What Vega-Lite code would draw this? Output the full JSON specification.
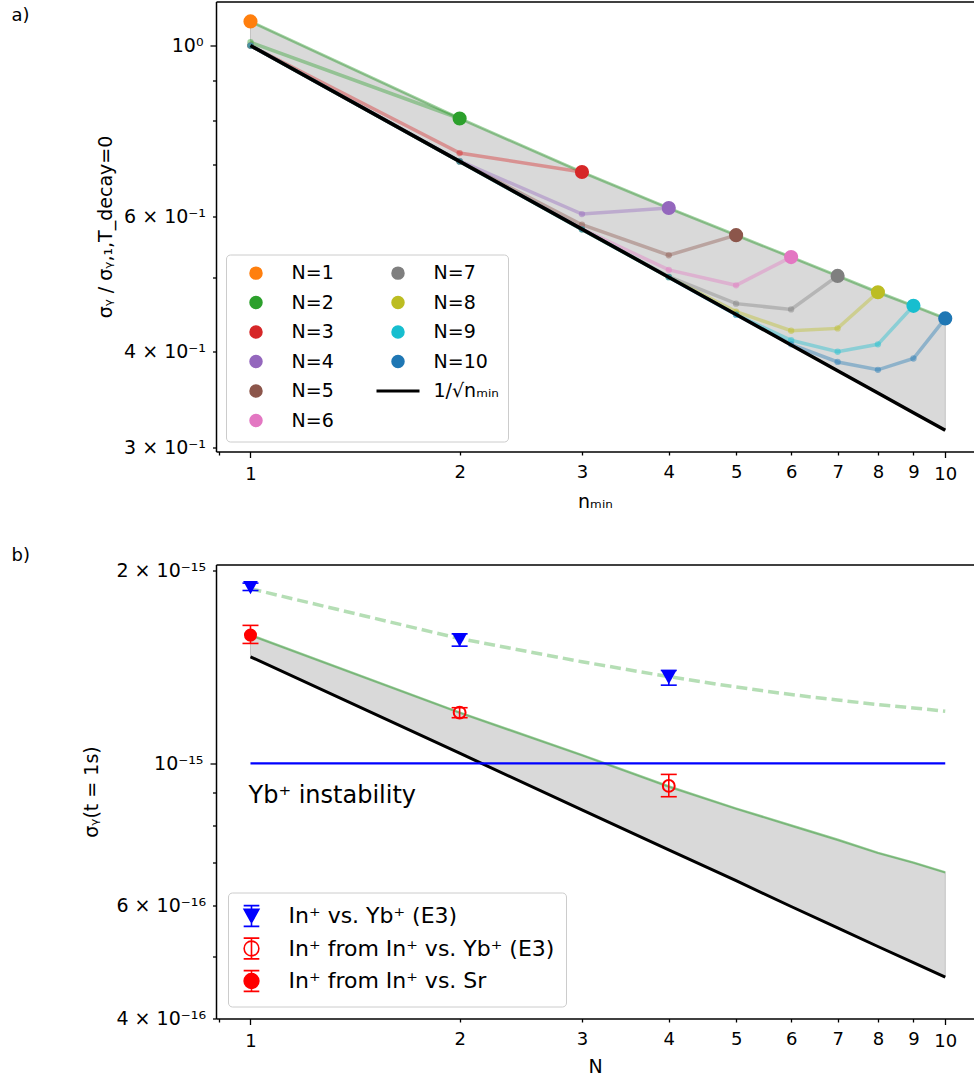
{
"$schema": "https://vega.github.io/schema/vega-lite/v6.json",
"padding": {"left": 11, "top": 1.5, "right": 0, "bottom": 0},
"spacing": 34,
"config": {
  "font": "DejaVu Sans",
  "view": {"stroke": null},
  "axis": {"grid": false, "domainColor": "#000000", "domainWidth": 1.5, "tickColor": "#000000", "tickWidth": 1.3, "labelColor": "#000000", "labelFontSize": 18, "labelFont": "DejaVu Sans", "titleFont": "DejaVu Sans", "titleFontSize": 19, "titleFontWeight": "normal", "titleColor": "#000000", "labelOverlap": false, "labelFlush": false},
  "axisY": {"labelFontSize": 19}
},
"resolve": {"scale": {"x": "independent", "y": "independent", "color": "independent", "fill": "independent", "stroke": "independent", "shape": "independent"}, "legend": {"fill": "independent", "stroke": "independent", "shape": "independent"}},
"datasets": {
  "a_band": [
    {"n": 1, "lo": 1.0, "hi": 1.075},
    {"n": 2, "lo": 0.7071, "hi": 0.804},
    {"n": 3, "lo": 0.5774, "hi": 0.685},
    {"n": 4, "lo": 0.5, "hi": 0.615},
    {"n": 5, "lo": 0.4472, "hi": 0.567},
    {"n": 6, "lo": 0.4082, "hi": 0.531},
    {"n": 7, "lo": 0.378, "hi": 0.502},
    {"n": 8, "lo": 0.3536, "hi": 0.478},
    {"n": 9, "lo": 0.3333, "hi": 0.459},
    {"n": 10, "lo": 0.3162, "hi": 0.442}
  ],
  "a_series": [
    {"N": "N=1", "k": 1, "n": 1, "y": 1.075},
    {"N": "N=2", "k": 2, "n": 1, "y": 1.01},
    {"N": "N=2", "k": 2, "n": 2, "y": 0.804},
    {"N": "N=3", "k": 3, "n": 1, "y": 1.0},
    {"N": "N=3", "k": 3, "n": 2, "y": 0.725},
    {"N": "N=3", "k": 3, "n": 3, "y": 0.685},
    {"N": "N=4", "k": 4, "n": 1, "y": 1.0},
    {"N": "N=4", "k": 4, "n": 2, "y": 0.708},
    {"N": "N=4", "k": 4, "n": 3, "y": 0.604},
    {"N": "N=4", "k": 4, "n": 4, "y": 0.615},
    {"N": "N=5", "k": 5, "n": 1, "y": 1.0},
    {"N": "N=5", "k": 5, "n": 2, "y": 0.707},
    {"N": "N=5", "k": 5, "n": 3, "y": 0.585},
    {"N": "N=5", "k": 5, "n": 4, "y": 0.534},
    {"N": "N=5", "k": 5, "n": 5, "y": 0.567},
    {"N": "N=6", "k": 6, "n": 1, "y": 1.0},
    {"N": "N=6", "k": 6, "n": 2, "y": 0.707},
    {"N": "N=6", "k": 6, "n": 3, "y": 0.578},
    {"N": "N=6", "k": 6, "n": 4, "y": 0.511},
    {"N": "N=6", "k": 6, "n": 5, "y": 0.488},
    {"N": "N=6", "k": 6, "n": 6, "y": 0.531},
    {"N": "N=7", "k": 7, "n": 1, "y": 1.0},
    {"N": "N=7", "k": 7, "n": 2, "y": 0.707},
    {"N": "N=7", "k": 7, "n": 3, "y": 0.577},
    {"N": "N=7", "k": 7, "n": 4, "y": 0.501},
    {"N": "N=7", "k": 7, "n": 5, "y": 0.462},
    {"N": "N=7", "k": 7, "n": 6, "y": 0.454},
    {"N": "N=7", "k": 7, "n": 7, "y": 0.502},
    {"N": "N=8", "k": 8, "n": 1, "y": 1.0},
    {"N": "N=8", "k": 8, "n": 2, "y": 0.707},
    {"N": "N=8", "k": 8, "n": 3, "y": 0.577},
    {"N": "N=8", "k": 8, "n": 4, "y": 0.5},
    {"N": "N=8", "k": 8, "n": 5, "y": 0.451},
    {"N": "N=8", "k": 8, "n": 6, "y": 0.426},
    {"N": "N=8", "k": 8, "n": 7, "y": 0.429},
    {"N": "N=8", "k": 8, "n": 8, "y": 0.478},
    {"N": "N=9", "k": 9, "n": 1, "y": 1.0},
    {"N": "N=9", "k": 9, "n": 2, "y": 0.707},
    {"N": "N=9", "k": 9, "n": 3, "y": 0.577},
    {"N": "N=9", "k": 9, "n": 4, "y": 0.5},
    {"N": "N=9", "k": 9, "n": 5, "y": 0.447},
    {"N": "N=9", "k": 9, "n": 6, "y": 0.414},
    {"N": "N=9", "k": 9, "n": 7, "y": 0.4},
    {"N": "N=9", "k": 9, "n": 8, "y": 0.409},
    {"N": "N=9", "k": 9, "n": 9, "y": 0.459},
    {"N": "N=10", "k": 10, "n": 1, "y": 1.0},
    {"N": "N=10", "k": 10, "n": 2, "y": 0.707},
    {"N": "N=10", "k": 10, "n": 3, "y": 0.577},
    {"N": "N=10", "k": 10, "n": 4, "y": 0.5},
    {"N": "N=10", "k": 10, "n": 5, "y": 0.447},
    {"N": "N=10", "k": 10, "n": 6, "y": 0.409},
    {"N": "N=10", "k": 10, "n": 7, "y": 0.388},
    {"N": "N=10", "k": 10, "n": 8, "y": 0.379},
    {"N": "N=10", "k": 10, "n": 9, "y": 0.392},
    {"N": "N=10", "k": 10, "n": 10, "y": 0.442}
  ],
  "b_band": [
    {"N": 1, "lo": 1.466e-15, "hi": 1.585e-15},
    {"N": 2, "lo": 1.037e-15, "hi": 1.2e-15},
    {"N": 3, "lo": 8.46e-16, "hi": 1.03e-15},
    {"N": 4, "lo": 7.33e-16, "hi": 9.2e-16},
    {"N": 5, "lo": 6.56e-16, "hi": 8.5e-16},
    {"N": 6, "lo": 5.98e-16, "hi": 8.0e-16},
    {"N": 7, "lo": 5.54e-16, "hi": 7.6e-16},
    {"N": 8, "lo": 5.18e-16, "hi": 7.25e-16},
    {"N": 9, "lo": 4.89e-16, "hi": 7.0e-16},
    {"N": 10, "lo": 4.64e-16, "hi": 6.76e-16}
  ],
  "b_dash": [
    {"N": 1, "v": 1.872e-15},
    {"N": 2, "v": 1.565e-15},
    {"N": 3, "v": 1.44e-15},
    {"N": 4, "v": 1.365e-15},
    {"N": 5, "v": 1.315e-15},
    {"N": 6, "v": 1.28e-15},
    {"N": 7, "v": 1.255e-15},
    {"N": 8, "v": 1.235e-15},
    {"N": 9, "v": 1.22e-15},
    {"N": 10, "v": 1.206e-15}
  ],
  "b_hline": [
    {"N": 1, "v": 1e-15},
    {"N": 10, "v": 1e-15}
  ],
  "b_text": [
    {"N": 1, "v": 8.88e-16, "t": "Yb⁺ instability"}
  ],
  "b_pts": [
    {"series": "In⁺ vs. Yb⁺ (E3)", "N": 1, "y": 1.88e-15, "lo": 1.86e-15, "hi": 1.91e-15},
    {"series": "In⁺ vs. Yb⁺ (E3)", "N": 2, "y": 1.556e-15, "lo": 1.523e-15, "hi": 1.592e-15},
    {"series": "In⁺ vs. Yb⁺ (E3)", "N": 4, "y": 1.36e-15, "lo": 1.324e-15, "hi": 1.396e-15},
    {"series": "In⁺ from In⁺ vs. Yb⁺ (E3)", "N": 2, "y": 1.2e-15, "lo": 1.178e-15, "hi": 1.221e-15},
    {"series": "In⁺ from In⁺ vs. Yb⁺ (E3)", "N": 4, "y": 9.22e-16, "lo": 8.87e-16, "hi": 9.61e-16},
    {"series": "In⁺ from In⁺ vs. Sr", "N": 1, "y": 1.585e-15, "lo": 1.538e-15, "hi": 1.641e-15}
  ]
},
"vconcat": [
{
  "width": 758, "height": 450,
  "resolve": {"axis": {"x": "independent"}},
  "layer": [
    {
      "data": {"name": "a_band"},
      "mark": {"type": "area", "fill": "#d9d9d9", "stroke": "#c2c2c2", "strokeWidth": 1},
      "encoding": {
        "x": {"field": "n", "type": "quantitative", "scale": {"type": "log", "domain": [0.892, 11.0], "nice": false},
          "axis": {"values": [0.9, 1, 2, 3, 4, 5, 6, 7, 8, 9, 10], "labelExpr": "datum.value < 0.95 ? '' : '' + round(datum.value)",
            "tickSize": {"condition": {"test": "datum.value == 1 || datum.value == 10", "value": 6}, "value": 3.5},
            "labelPadding": 8, "title": "nₘᵢₙ", "titlePadding": 9}},
        "y": {"field": "lo", "type": "quantitative", "scale": {"type": "log", "domain": [0.2968, 1.141], "nice": false},
          "axis": {"values": [0.3, 0.4, 0.5, 0.6, 0.7, 0.8, 0.9, 1],
            "labelExpr": "datum.value == 1 ? '10⁰' : abs(datum.value - 0.6) < 0.001 ? '6 × 10⁻¹' : abs(datum.value - 0.4) < 0.001 ? '4 × 10⁻¹' : abs(datum.value - 0.3) < 0.001 ? '3 × 10⁻¹' : ''",
            "tickSize": {"condition": {"test": "datum.value == 1", "value": 6}, "value": 3.5},
            "labelPadding": 7, "title": "σᵧ / σᵧ,₁,T_decay=0", "titlePadding": 8}},
        "y2": {"field": "hi"}
      }
    },
    {
      "data": {"name": "a_band"},
      "mark": {"type": "line", "color": "#2ca02c", "opacity": 0.45, "strokeWidth": 3},
      "encoding": {
        "x": {"field": "n", "type": "quantitative", "scale": {"type": "log", "domain": [0.892, 11.0], "nice": false},
          "axis": {"orient": "top", "labels": false, "ticks": false, "domain": true,
            "title": "a)", "titleX": -205, "titleY": 5, "titleAlign": "left", "titleBaseline": "top", "titleAngle": 0, "titleFontSize": 18}},
        "y": {"field": "hi", "type": "quantitative"}
      }
    },
    {
      "data": {"name": "a_series"},
      "mark": {"type": "line", "opacity": 0.4, "strokeWidth": 3.5},
      "encoding": {
        "x": {"field": "n", "type": "quantitative", "axis": null},
        "y": {"field": "y", "type": "quantitative"},
        "color": {"field": "N", "type": "nominal", "legend": null,
          "scale": {"domain": ["N=1","N=2","N=3","N=4","N=5","N=6","N=7","N=8","N=9","N=10"],
                    "range": ["#ff7f0e","#2ca02c","#d62728","#9467bd","#8c564b","#e377c2","#7f7f7f","#bcbd22","#17becf","#1f77b4"]}}
      }
    },
    {
      "data": {"name": "a_series"},
      "transform": [{"filter": "datum.n < datum.k"}],
      "mark": {"type": "point", "filled": true, "opacity": 0.45, "size": 40},
      "encoding": {
        "x": {"field": "n", "type": "quantitative", "axis": null},
        "y": {"field": "y", "type": "quantitative"},
        "color": {"field": "N", "type": "nominal", "legend": null}
      }
    },
    {
      "data": {"name": "a_band"},
      "mark": {"type": "line", "color": "#000000", "strokeWidth": 3.5},
      "encoding": {
        "x": {"field": "n", "type": "quantitative", "axis": null},
        "y": {"field": "lo", "type": "quantitative"}
      }
    },
    {
      "data": {"name": "a_series"},
      "transform": [{"filter": "datum.n == datum.k"}],
      "mark": {"type": "point", "filled": true, "opacity": 1, "size": 200},
      "encoding": {
        "x": {"field": "n", "type": "quantitative", "axis": null},
        "y": {"field": "y", "type": "quantitative"},
        "color": {"field": "N", "type": "nominal", "legend": null}
      }
    },
    {
      "data": {"name": "a_series"},
      "transform": [{"filter": "datum.n == datum.k"}],
      "mark": {"type": "point", "opacity": 0, "size": 10},
      "encoding": {
        "x": {"field": "n", "type": "quantitative", "axis": null},
        "y": {"field": "y", "type": "quantitative"},
        "fill": {"field": "N", "type": "nominal",
          "scale": {"domain": ["N=1","N=2","N=3","N=4","N=5","N=6","N=7","N=8","N=9","N=10","1/√nₘᵢₙ"],
                    "range": ["#ff7f0e","#2ca02c","#d62728","#9467bd","#8c564b","#e377c2","#7f7f7f","#bcbd22","#17becf","#1f77b4","#000000"]},
          "legend": {"title": null, "orient": "bottom-left", "offset": 10, "columns": 2, "columnPadding": 36, "rowPadding": 6.5, "padding": 9,
            "symbolSize": 110, "symbolStrokeWidth": 3, "symbolOpacity": 1, "symbolOffset": 11.5, "labelOffset": 26,
            "labelFontSize": 19, "labelFont": "DejaVu Sans", "labelColor": "#000000", "labelLimit": 400,
            "fillColor": "rgba(255,255,255,0.8)", "strokeColor": "#cccccc", "cornerRadius": 4}},
        "stroke": {"field": "N", "type": "nominal",
          "scale": {"domain": ["N=1","N=2","N=3","N=4","N=5","N=6","N=7","N=8","N=9","N=10","1/√nₘᵢₙ"],
                    "range": ["#ff7f0e","#2ca02c","#d62728","#9467bd","#8c564b","#e377c2","#7f7f7f","#bcbd22","#17becf","#1f77b4","#000000"]},
          "legend": {"title": null, "orient": "bottom-left", "offset": 10, "columns": 2, "columnPadding": 36, "rowPadding": 6.5, "padding": 9,
            "symbolSize": 110, "symbolStrokeWidth": 3, "symbolOpacity": 1, "symbolOffset": 11.5, "labelOffset": 26,
            "labelFontSize": 19, "labelFont": "DejaVu Sans", "labelColor": "#000000", "labelLimit": 400,
            "fillColor": "rgba(255,255,255,0.8)", "strokeColor": "#cccccc", "cornerRadius": 4}},
        "shape": {"field": "N", "type": "nominal",
          "scale": {"domain": ["N=1","N=2","N=3","N=4","N=5","N=6","N=7","N=8","N=9","N=10","1/√nₘᵢₙ"],
                    "range": ["circle","circle","circle","circle","circle","circle","circle","circle","circle","circle","M-4.1,0L4.1,0"]},
          "legend": {"title": null, "orient": "bottom-left", "offset": 10, "columns": 2, "columnPadding": 36, "rowPadding": 6.5, "padding": 9,
            "symbolSize": 110, "symbolStrokeWidth": 3, "symbolOpacity": 1, "symbolOffset": 11.5, "labelOffset": 26,
            "labelFontSize": 19, "labelFont": "DejaVu Sans", "labelColor": "#000000", "labelLimit": 400,
            "fillColor": "rgba(255,255,255,0.8)", "strokeColor": "#cccccc", "cornerRadius": 4}}
      }
    }
  ]
},
{
  "width": 758, "height": 454,
  "resolve": {"axis": {"x": "independent"}},
  "layer": [
    {
      "data": {"name": "b_band"},
      "mark": {"type": "area", "fill": "#d9d9d9", "stroke": "#c2c2c2", "strokeWidth": 1},
      "encoding": {
        "x": {"field": "N", "type": "quantitative", "scale": {"type": "log", "domain": [0.892, 11.0], "nice": false},
          "axis": {"values": [0.9, 1, 2, 3, 4, 5, 6, 7, 8, 9, 10], "labelExpr": "datum.value < 0.95 ? '' : '' + round(datum.value)",
            "tickSize": {"condition": {"test": "datum.value == 1 || datum.value == 10", "value": 6}, "value": 3.5},
            "labelPadding": 8, "title": "N", "titlePadding": 7}},
        "y": {"field": "lo", "type": "quantitative", "scale": {"type": "log", "domain": [4.0e-16, 2.042e-15], "nice": false},
          "axis": {"values": [4e-16, 5e-16, 6e-16, 7e-16, 8e-16, 9e-16, 1e-15, 2e-15],
            "labelExpr": "abs(datum.value/2e-15 - 1) < 0.001 ? '2 × 10⁻¹⁵' : abs(datum.value/1e-15 - 1) < 0.001 ? '10⁻¹⁵' : abs(datum.value/6e-16 - 1) < 0.001 ? '6 × 10⁻¹⁶' : abs(datum.value/4e-16 - 1) < 0.001 ? '4 × 10⁻¹⁶' : ''",
            "tickSize": {"condition": {"test": "abs(datum.value/1e-15 - 1) < 0.001", "value": 6}, "value": 3.5},
            "labelPadding": 7, "title": "σᵧ(t = 1s)", "titlePadding": 14}},
        "y2": {"field": "hi"}
      }
    },
    {
      "data": {"name": "b_band"},
      "mark": {"type": "line", "color": "#2ca02c", "opacity": 0.5, "strokeWidth": 2.5},
      "encoding": {
        "x": {"field": "N", "type": "quantitative", "scale": {"type": "log", "domain": [0.892, 11.0], "nice": false},
          "axis": {"orient": "top", "labels": false, "ticks": false, "domain": true,
            "title": "b)", "titleX": -205, "titleY": -4.5, "titleAlign": "left", "titleBaseline": "alphabetic", "titleAngle": 0, "titleFontSize": 18}},
        "y": {"field": "hi", "type": "quantitative"}
      }
    },
    {
      "data": {"name": "b_band"},
      "mark": {"type": "line", "color": "#000000", "strokeWidth": 3},
      "encoding": {
        "x": {"field": "N", "type": "quantitative", "axis": null},
        "y": {"field": "lo", "type": "quantitative"}
      }
    },
    {
      "data": {"name": "b_dash"},
      "mark": {"type": "line", "color": "#2ca02c", "opacity": 0.35, "strokeWidth": 3.5, "strokeDash": [11, 5]},
      "encoding": {
        "x": {"field": "N", "type": "quantitative", "axis": null},
        "y": {"field": "v", "type": "quantitative"}
      }
    },
    {
      "data": {"name": "b_hline"},
      "mark": {"type": "line", "color": "#0000ff", "strokeWidth": 2.2},
      "encoding": {
        "x": {"field": "N", "type": "quantitative", "axis": null},
        "y": {"field": "v", "type": "quantitative"}
      }
    },
    {
      "data": {"name": "b_text"},
      "mark": {"type": "text", "align": "left", "baseline": "middle", "dx": -2, "fontSize": 24, "font": "DejaVu Sans", "color": "#000000"},
      "encoding": {
        "x": {"field": "N", "type": "quantitative", "axis": null},
        "y": {"field": "v", "type": "quantitative"},
        "text": {"field": "t"}
      }
    },
    {
      "data": {"name": "b_pts"},
      "mark": {"type": "rule", "strokeWidth": 1.6},
      "encoding": {
        "x": {"field": "N", "type": "quantitative", "axis": null},
        "y": {"field": "lo", "type": "quantitative"},
        "y2": {"field": "hi"},
        "color": {"field": "series", "type": "nominal", "legend": null,
          "scale": {"domain": ["In⁺ from In⁺ vs. Sr", "In⁺ from In⁺ vs. Yb⁺ (E3)", "In⁺ vs. Yb⁺ (E3)"], "range": ["#ff0000", "#ff0000", "#0000ff"]}}
      }
    },
    {
      "data": {"name": "b_pts"},
      "mark": {"type": "point", "shape": "stroke", "size": 256, "strokeWidth": 1.6, "opacity": 1},
      "encoding": {
        "x": {"field": "N", "type": "quantitative", "axis": null},
        "y": {"field": "lo", "type": "quantitative"},
        "color": {"field": "series", "type": "nominal", "legend": null}
      }
    },
    {
      "data": {"name": "b_pts"},
      "mark": {"type": "point", "shape": "stroke", "size": 256, "strokeWidth": 1.6, "opacity": 1},
      "encoding": {
        "x": {"field": "N", "type": "quantitative", "axis": null},
        "y": {"field": "hi", "type": "quantitative"},
        "color": {"field": "series", "type": "nominal", "legend": null}
      }
    },
    {
      "data": {"name": "b_pts"},
      "transform": [{"filter": "datum.series === 'In⁺ vs. Yb⁺ (E3)'"}],
      "mark": {"type": "point", "shape": "M-1,-0.9L1,-0.9L0,0.9Z", "size": 216, "filled": true, "opacity": 1, "strokeWidth": 0},
      "encoding": {
        "x": {"field": "N", "type": "quantitative", "axis": null},
        "y": {"field": "y", "type": "quantitative"},
        "color": {"field": "series", "type": "nominal", "legend": null}
      }
    },
    {
      "data": {"name": "b_pts"},
      "transform": [{"filter": "datum.series === 'In⁺ from In⁺ vs. Yb⁺ (E3)'"}],
      "mark": {"type": "point", "shape": "circle", "size": 140, "filled": false, "strokeWidth": 2, "opacity": 1},
      "encoding": {
        "x": {"field": "N", "type": "quantitative", "axis": null},
        "y": {"field": "y", "type": "quantitative"},
        "color": {"field": "series", "type": "nominal", "legend": null}
      }
    },
    {
      "data": {"name": "b_pts"},
      "transform": [{"filter": "datum.series === 'In⁺ from In⁺ vs. Sr'"}],
      "mark": {"type": "point", "shape": "circle", "size": 170, "filled": true, "opacity": 1, "strokeWidth": 0},
      "encoding": {
        "x": {"field": "N", "type": "quantitative", "axis": null},
        "y": {"field": "y", "type": "quantitative"},
        "color": {"field": "series", "type": "nominal", "legend": null}
      }
    },
    {
      "data": {"name": "b_pts"},
      "mark": {"type": "point", "opacity": 0, "size": 10},
      "encoding": {
        "x": {"field": "N", "type": "quantitative", "axis": null},
        "y": {"field": "y", "type": "quantitative"},
        "fill": {"field": "series", "type": "nominal",
          "scale": {"domain": ["In⁺ vs. Yb⁺ (E3)", "In⁺ from In⁺ vs. Yb⁺ (E3)", "In⁺ from In⁺ vs. Sr"], "range": ["#0000ff", "transparent", "#ff0000"]},
          "legend": {"title": null, "orient": "bottom-left", "offset": 12, "padding": 11, "rowPadding": 3.5,
            "symbolSize": 529, "symbolStrokeWidth": 1.6, "symbolOpacity": 1, "labelOffset": 24.6,
            "labelFontSize": 22, "labelFont": "DejaVu Sans", "labelColor": "#000000", "labelLimit": 500,
            "fillColor": "rgba(255,255,255,0.8)", "strokeColor": "#cccccc", "cornerRadius": 4}},
        "stroke": {"field": "series", "type": "nominal",
          "scale": {"domain": ["In⁺ vs. Yb⁺ (E3)", "In⁺ from In⁺ vs. Yb⁺ (E3)", "In⁺ from In⁺ vs. Sr"], "range": ["#0000ff", "#ff0000", "#ff0000"]},
          "legend": {"title": null, "orient": "bottom-left", "offset": 12, "padding": 11, "rowPadding": 3.5,
            "symbolSize": 529, "symbolStrokeWidth": 1.6, "symbolOpacity": 1, "labelOffset": 24.6,
            "labelFontSize": 22, "labelFont": "DejaVu Sans", "labelColor": "#000000", "labelLimit": 500,
            "fillColor": "rgba(255,255,255,0.8)", "strokeColor": "#cccccc", "cornerRadius": 4}},
        "shape": {"field": "series", "type": "nominal",
          "scale": {"domain": ["In⁺ vs. Yb⁺ (E3)", "In⁺ from In⁺ vs. Yb⁺ (E3)", "In⁺ from In⁺ vs. Sr"],
                    "range": ["M-0.68,-0.9L0.68,-0.9M0,-0.9L0,0.9M-0.68,0.9L0.68,0.9M-0.64,-0.58L0.64,-0.58L0,0.58Z",
                              "M-0.68,-0.9L0.68,-0.9M0,-0.9L0,0.9M-0.68,0.9L0.68,0.9M0.64,0A0.64,0.64,0,1,1,-0.64,0A0.64,0.64,0,1,1,0.64,0Z",
                              "M-0.68,-0.9L0.68,-0.9M0,-0.9L0,0.9M-0.68,0.9L0.68,0.9M0.64,0A0.64,0.64,0,1,1,-0.64,0A0.64,0.64,0,1,1,0.64,0Z"]},
          "legend": {"title": null, "orient": "bottom-left", "offset": 12, "padding": 11, "rowPadding": 3.5,
            "symbolSize": 529, "symbolStrokeWidth": 1.6, "symbolOpacity": 1, "labelOffset": 24.6,
            "labelFontSize": 22, "labelFont": "DejaVu Sans", "labelColor": "#000000", "labelLimit": 500,
            "fillColor": "rgba(255,255,255,0.8)", "strokeColor": "#cccccc", "cornerRadius": 4}}
      }
    }
  ]
}
]
}
